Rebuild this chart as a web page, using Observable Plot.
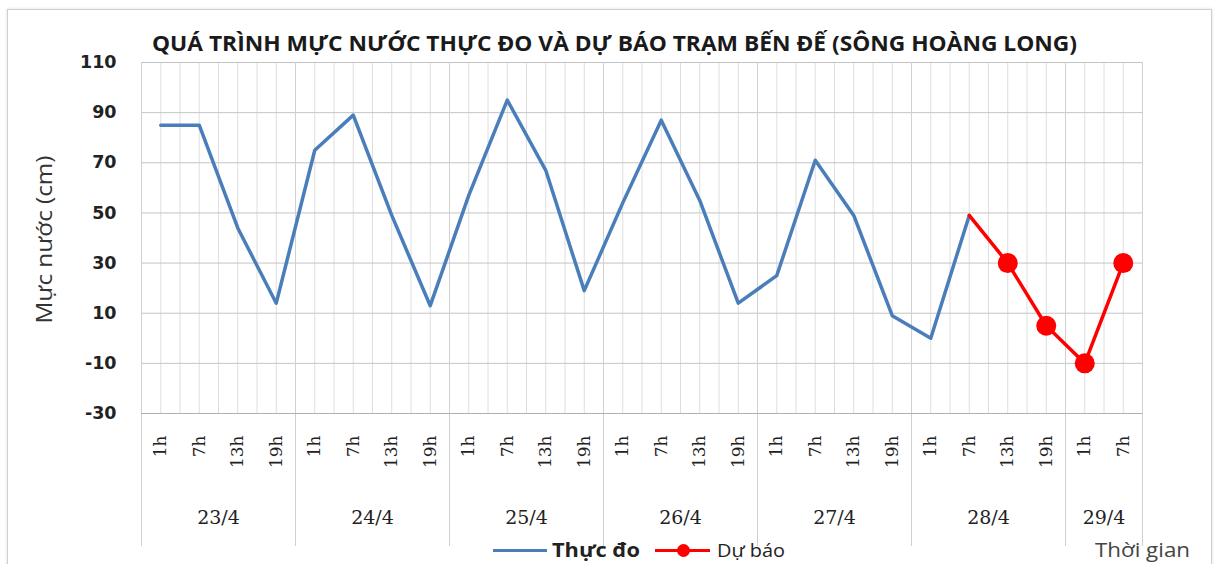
<!DOCTYPE html>
<html><head><meta charset="utf-8">
<script src="https://cdn.jsdelivr.net/npm/d3@7"></script>
<script src="https://cdn.jsdelivr.net/npm/@observablehq/plot@0.6"></script>
<style>
body{margin:0;background:#fff;width:1214px;height:564px;overflow:hidden;position:relative;font-family:"Open Sans",sans-serif}
#frame{position:absolute;left:7px;top:9px;width:1203px;height:570px;border:1px solid #cfcfcf;box-shadow:0 0 3px #ddd}
#chart{position:absolute;left:0;top:0}
.t{position:absolute;white-space:nowrap;line-height:1;transform-origin:0 50%}
#title{left:152px;top:43px;font-weight:700;font-size:21px;color:#1a1a1a}
#ylab{font-size:21px;color:#333;transform-origin:50% 50%}
.sw{position:absolute;height:3px}
</style></head><body>
<div id="frame"></div>
<div id="chart"></div>
<span class="t" id="title" data-w="925">QUÁ TRÌNH MỰC NƯỚC THỰC ĐO VÀ DỰ BÁO TRẠM BẾN ĐẾ (SÔNG HOÀNG LONG)</span>
<span class="t" id="ylab">Mực nước (cm)</span>
<span class="sw" style="left:493px;top:549px;width:54px;background:#4a7ebb"></span>
<span class="t" style="left:552px;top:550px;font-size:20px;font-weight:700;color:#222" data-w="88">Thực đo</span>
<span class="sw" style="left:655px;top:549px;width:55px;background:#ff0000"></span>
<span style="position:absolute;left:677px;top:544px;width:13px;height:13px;border-radius:50%;background:#ff0000"></span>
<span class="t" style="left:717px;top:550px;font-size:19px;color:#222" data-w="68">Dự báo</span>
<span class="t" style="left:1095px;top:550px;font-size:20px;color:#444" data-w="95">Thời gian</span>
<script>
const days = ["23/4","24/4","25/4","26/4","27/4","28/4","29/4"];
const slotsPerDay = [4,4,4,4,4,4,2];
const hourLabels = ["1h","7h","13h","19h","1h","7h","13h","19h","1h","7h","13h","19h","1h","7h","13h","19h","1h","7h","13h","19h","1h","7h","13h","19h","1h","7h"];
const observed = [85,85,44,14,75,89,49,13,57,95,67,19,54,87,55,14,25,71,49,9,0,49];
const forecast = [49,30,5,-10,30];
const yTicks = [-30,-10,10,30,50,70,90,110];

const obsData = observed.map((v,i)=>({i, v}));
const fcData = forecast.map((v,k)=>({i: observed.length-1+k, v}));
let s = 0;
const dayData = days.map((d,k)=>{const o={d, mid:(2*s+slotsPerDay[k]-1)/2, start:s-0.5}; s+=slotsPerDay[k]; return o;});
const boundaries = dayData.map(d=>d.start).concat([s-0.5]);
const halfGrid = d3.range(-0.5, s, 0.5);

const chart = Plot.plot({
  width:1214, height:564,
  marginTop:62, marginBottom:151, marginLeft:141, marginRight:72,
  x:{domain:[-0.5, s-0.5]},
  y:{domain:[-30,110]},
  style:{background:"transparent", color:"#222"},
  marks:[
    Plot.gridX(halfGrid, {stroke:"#dedede", strokeOpacity:1}),
    Plot.gridY(yTicks, {stroke:"#c4c4c4", strokeOpacity:1}),
    Plot.ruleX(boundaries, {stroke:"#d0d0d0", insetBottom:-133}),
    Plot.ruleY([-30], {stroke:"#b0b0b0"}),
    Plot.axisX(d3.range(s), {tickFormat:i=>hourLabels[i], tickRotate:-90, tickSize:0, tickPadding:22, fontSize:17, fontFamily:"DejaVu Serif", fill:"#222", label:null}),
    Plot.axisY(yTicks, {tickFormat:d=>String(d), tickSize:0, tickPadding:25, fontSize:17.5, fontWeight:"bold", fontFamily:"DejaVu Sans", fill:"#222", label:null}),
    Plot.text(dayData, {x:"mid", text:"d", frameAnchor:"bottom", dy:110, fontSize:19, fontFamily:"DejaVu Serif", fill:"#222"}),
    Plot.line(obsData, {x:"i", y:"v", stroke:"#4a7ebb", strokeWidth:3.5}),
    Plot.line(fcData, {x:"i", y:"v", stroke:"#ff0000", strokeWidth:3.5}),
    Plot.dot(fcData.slice(1), {x:"i", y:"v", r:10, fill:"#ff0000"})
  ]
});
document.getElementById("chart").appendChild(chart);

document.querySelectorAll("[data-w]").forEach(el=>{
  const w = el.getBoundingClientRect().width;
  el.style.transform = `translateY(-50%) scaleX(${(+el.dataset.w)/w})`;
});
const yl = document.getElementById("ylab");
const yw = yl.getBoundingClientRect().width, yh = yl.getBoundingClientRect().height;
yl.style.left = (45 - yw/2) + "px";
yl.style.top = (239 - yh/2) + "px";
yl.style.transform = `rotate(-90deg) scaleX(${168/yw})`;
</script>
</body></html>
